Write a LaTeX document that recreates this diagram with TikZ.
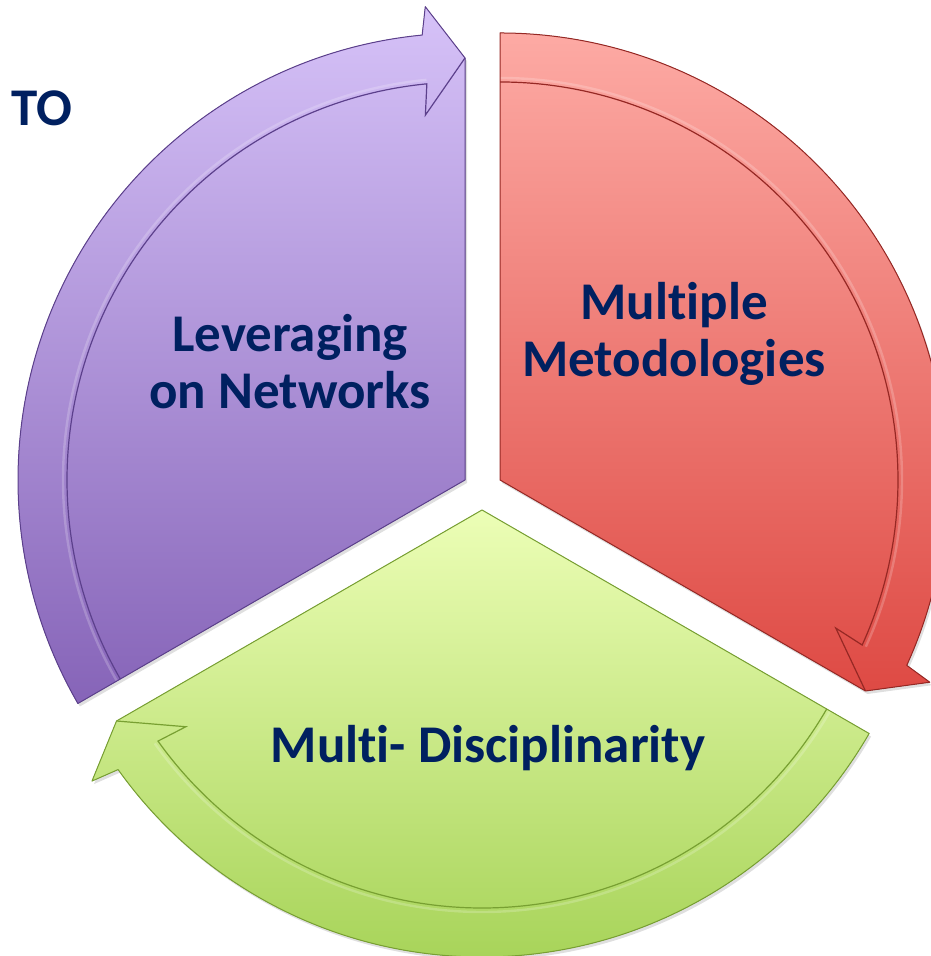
\documentclass[tikz,border=0pt]{standalone}
\usepackage{fontspec}
\setmainfont{Carlito}[Ligatures=NoCommon]
\usetikzlibrary{shadows}
\tikzset{>=latex}
\definecolor{navy}{RGB}{0,32,96}
\definecolor{lilacTop}{RGB}{214,194,248}
\definecolor{lilacBot}{RGB}{134,100,184}
\definecolor{lilacLine}{RGB}{92,64,140}
\definecolor{redTop}{RGB}{253,170,164}
\definecolor{redBot}{RGB}{222,74,68}
\definecolor{redLine}{RGB}{150,40,36}
\definecolor{limeTop}{RGB}{236,254,182}
\definecolor{limeBot}{RGB}{168,212,90}
\definecolor{limeLine}{RGB}{120,160,50}

\begin{document}
\begin{tikzpicture}[x=0.5pt,y=0.5pt,
  label text/.style={font=\fontsize{26.5}{28.5}\selectfont\bfseries,
                     text=navy, align=center}]

  % USER SETTINGS
  \def\Ro{447}  % outer radius of ring
  \def\Ri{398}  % inner radius of ring
  \def\Rm{422}  % radius of arrow tip
  \def\Rwo{475} % outer wing of arrow head
  \def\Rwi{367} % inner wing of arrow head
  \def\da{5.5}  % angle of arrow head

  \useasboundingbox (0,0) rectangle (930,956);

  % APEXES
  \coordinate (pLilac) at (465,476);
  \coordinate (pRed)   at (500,476);
  \coordinate (pLime)  at (482,446);

  % HELP FUNCTION
  \def\segment(#1,#2,#3,#4){ % apex, start angle, end angle, colour
    \begin{scope}[shift={(#1)}]
      \fill[top color=#4Top, bottom color=#4Bot,
            drop shadow={opacity=0.25,shadow xshift=1pt,shadow yshift=-1.5pt}]
        (0,0) -- (#2:\Ro) arc[start angle=#2, end angle=#3+\da, radius=\Ro]
        -- ({#3+4.8}:\Rwo) -- (#3:\Rm) -- cycle;
      \draw[white, opacity=0.2, line width=1.2pt] % highlight
        (#2:\Ri+4) arc[start angle=#2, end angle=#3+\da, radius=\Ri+4];
      \draw[#4Line, line width=0.6pt] % ring edge
        (#2:\Ri) arc[start angle=#2, end angle=#3+\da, radius=\Ri]
        -- ({#3+6.2}:\Rwi) -- (#3:\Rm);
      \draw[#4Line, line width=0.5pt, line join=round] % outline
        (0,0) -- (#2:\Ro) arc[start angle=#2, end angle=#3+\da, radius=\Ro]
        -- ({#3+4.8}:\Rwo) -- (#3:\Rm) -- cycle;
    \end{scope}
  }

  % SEGMENTS
  \segment(pLilac,210,90,lilac)
  \segment(pRed,90,-30,red)
  \segment(pLime,-30,-150,lime)

  % LABELS
  \node[label text] (leverage) at (290,594) {Leveraging\\on Networks};
  \node[label text] (methods)  at (674,622) {Multiple\\Metodologies};
  \node[label text] (discipl)  at (488,208) {Multi- Disciplinarity};
  \node[label text] (to)       at (42,848)  {TO};

\end{tikzpicture}
\end{document}
